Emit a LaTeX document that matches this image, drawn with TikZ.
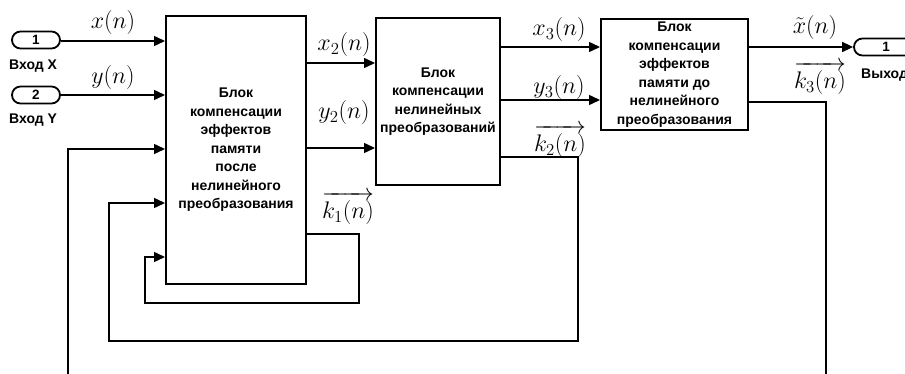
\documentclass[tikz,border=0pt]{standalone}
\usepackage{fix-cm}
\usepackage{amsmath}
\usepackage{fontspec}
\setmainfont{Liberation Sans}
\usetikzlibrary{arrows.meta,calc}
\begin{document}
\begin{tikzpicture}[x=1pt,y=-1pt,
  blk/.style={draw, line width=2pt, rectangle, align=center, inner sep=0pt,
    font=\fontsize{14}{18.5}\selectfont\bfseries},
  port/.style={draw, line width=1.8pt, rectangle, rounded corners=8.5pt,
    minimum width=48pt, minimum height=17pt, inner sep=0pt,
    font=\fontsize{13.5}{13}\selectfont\bfseries},
  portlbl/.style={inner sep=0pt, font=\fontsize{14}{14}\selectfont\bfseries},
  wire/.style={line width=1.5pt},
  arr/.style={wire, -{Triangle[length=11pt,width=10pt]}},
  lbl/.style={inner sep=0pt, font=\fontsize{24}{24}\selectfont}
]
\useasboundingbox (0,0) rectangle (905,374);

% ports
\node[port] (in1) at (36,40) {1};
\node[portlbl, anchor=west] (in1l) at (9,66) {Вход X};
\node[port] (in2) at (36,95) {2};
\node[portlbl, anchor=west] (in2l) at (9,120) {Вход Y};
\node[port, minimum width=70pt] (out1) at (889,47) {};
\node[inner sep=0pt, font=\fontsize{13.5}{13}\selectfont\bfseries] (out1n) at (886,47) {1};
\node[portlbl, anchor=west] (out1l) at (861,75) {Выход};

% blocks
\node[blk, minimum width=140pt, minimum height=268pt] (b1) at (236,150)
  {Блок\\компенсации\\эффектов\\памяти\\после\\нелинейного\\преобразования};
\node[blk, minimum width=124pt, minimum height=167pt] (b2) at (438,101.5)
  {Блок\\компенсации\\нелинейных\\преобразований};
\node[blk, minimum width=147pt, minimum height=111pt] (b3) at (674.5,74.5)
  {Блок\\компенсации\\эффектов\\памяти до\\нелинейного\\преобразования};

% free ends at the bottom edge
\coordinate (fbA) at (68,374);
\coordinate (fbB) at (826,374);

% main signals
\draw[arr] (in1.east |- 0,41) -- (b1.west |- 0,41);
\draw[arr] (in2.east |- 0,95) -- (b1.west |- 0,95);
\draw[arr] (b1.east |- 0,63) -- (b2.west |- 0,63);
\draw[arr] (b1.east |- 0,148) -- (b2.west |- 0,148);
\draw[arr] (b2.east |- 0,47) -- (b3.west |- 0,47);
\draw[arr] (b2.east |- 0,100) -- (b3.west |- 0,100);
\draw[arr] (b3.east |- 0,47) -- (out1.west |- 0,47);

% feedback loops
\draw[arr] (b1.east |- 0,234) -- (359,234) -- (359,303) -- (145,303) -- (145,257) -- (b1.west |- 0,257);
\draw[arr] (b2.east |- 0,157) -- (578,157) -- (578,341) -- (109,341) -- (109,203) -- (b1.west |- 0,203);
\draw[wire] (b3.east |- 0,102) -- (826,102) -- (fbB);
\draw[arr] (fbA) -- (68,149) -- (b1.west |- 0,149);

% labels
\node[lbl] (lx) at (113,23) {$x(n)$};
\node[lbl] (ly) at (113,78) {$y(n)$};
\node[lbl] (lx2) at (344,45) {$x_2(n)$};
\node[lbl] (ly2) at (344,113) {$y_2(n)$};
\node[lbl] (lk1) at (348,208) {$\overrightarrow{k_1(n)}$};
\node[lbl] (lx3) at (559,30) {$x_3(n)$};
\node[lbl] (ly3) at (559,88) {$y_3(n)$};
\node[lbl] (lk2) at (560,141) {$\overrightarrow{k_2(n)}$};
\node[lbl] (lxt) at (815,28) {$\tilde{x}(n)$};
\node[lbl] (lk3) at (820,78) {$\overrightarrow{k_3(n)}$};
\end{tikzpicture}
\end{document}
